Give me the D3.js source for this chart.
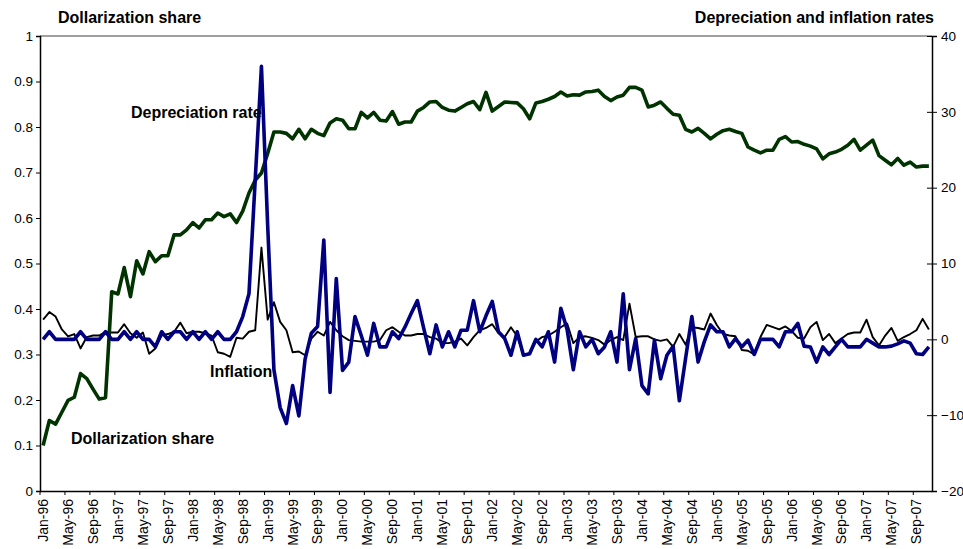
<!DOCTYPE html>
<html>
<head>
<meta charset="utf-8">
<script src="https://cdn.jsdelivr.net/npm/d3@7"></script>
<style>
  html, body { margin: 0; padding: 0; background: #fff; }
  svg { display: block; font-family: "Liberation Sans", Arial, sans-serif; }
  .axis text { font-size: 13.5px; fill: #000; }
  .axis.x text { font-size: 14px; }
  .label { font-size: 16px; font-weight: bold; fill: #000; }
</style>
</head>
<body>
<div id="chart"></div>
<script>
// Monthly categories Jan-96 .. Nov-07
const MONTHS = ["Jan","Feb","Mar","Apr","May","Jun","Jul","Aug","Sep","Oct","Nov","Dec"];
const YEARS = ["96","97","98","99","00","01","02","03","04","05","06","07"];
const categories = [];
YEARS.forEach(y => MONTHS.forEach(m => categories.push(`${m}-${y}`)));
categories.length = 143;

// Dollarization share (left axis)
const dollarization = [
  0.100,0.155,0.147,0.173,0.199,0.206,0.258,0.247,0.224,0.202,0.205,0.438,
  0.433,0.491,0.427,0.506,0.477,0.526,0.504,0.517,0.517,0.563,0.563,0.574,
  0.590,0.578,0.596,0.596,0.611,0.603,0.609,0.590,0.615,0.655,0.683,0.699,
  0.742,0.789,0.789,0.786,0.774,0.795,0.774,0.795,0.786,0.781,0.809,0.818,
  0.815,0.796,0.796,0.832,0.820,0.832,0.815,0.813,0.834,0.806,0.811,0.811,
  0.835,0.843,0.855,0.856,0.843,0.837,0.835,0.843,0.851,0.856,0.838,0.876,
  0.835,0.845,0.855,0.854,0.853,0.840,0.818,0.853,0.856,0.861,0.867,0.877,
  0.868,0.871,0.870,0.877,0.878,0.881,0.867,0.858,0.866,0.870,0.887,0.887,
  0.881,0.844,0.848,0.855,0.841,0.828,0.826,0.795,0.789,0.797,0.786,0.774,
  0.784,0.792,0.795,0.790,0.786,0.756,0.749,0.743,0.749,0.749,0.773,0.779,
  0.767,0.768,0.762,0.758,0.752,0.730,0.741,0.745,0.751,0.760,0.773,0.749,
  0.760,0.771,0.737,0.727,0.717,0.731,0.716,0.723,0.712,0.714,0.714
];

// Depreciation rate (right axis, %)
const depreciation = [
  0,1,0,0,0,0,1,0,0,0,1,0,
  0,1,0,1,0,0,-1,1,0,1,1,0,
  1,0,1,0,1,0,0,1,3,6,21,36,
  15,-4,-9,-11.1,-6.1,-10.1,-2.6,0.8,1.7,13.1,-7,8,
  -4.1,-3,3,0.5,-2.1,2.1,-1,-1,1,0.1,1.6,3.4,
  5.1,1.5,-1.9,1.9,-1,1,-1,1.2,1.2,5.1,1,3.1,
  5,1,0.1,-2.1,1,-2.1,-1.9,0,-1,1,-3,4.1,
  1.3,-4,1,-1,0,-1.9,-1,1,-3,6,-4,0.1,
  -6.1,-7.2,-0.1,-5.2,-2.1,-0.9,-8.1,-2.5,3,-3,-0.3,1.9,
  1,1,-1,0.1,-1,-0.1,-2,0,0,0,-1,1,
  1,2.1,-0.9,-1,-3,-1,-2,-1,0,-1,-1,-1,
  0,-0.5,-1,-1,-0.9,-0.6,-0.2,-0.5,-1.9,-2,-1
];

// Inflation (right axis, %)
const inflation = [
  2.6,3.6,3.0,1.3,0.4,0.7,-1.2,0.3,0.5,0.5,1.0,0.9,
  0.9,2.0,0.8,0.2,0.9,-1.9,-1.2,0.5,0.7,1.0,2.2,0.8,
  1.0,1.0,0.8,0.5,-1.7,-1.9,-2.3,0.2,0.1,1.0,1.2,12.1,
  2.6,4.9,2.3,1.2,-1.7,-1.6,-2.1,0.1,1.0,0.5,2.3,1.2,
  0.4,-0.1,-0.2,-0.3,-0.3,-0.3,-0.1,1.2,1.6,1.0,0.5,0.5,
  0.7,0.7,0.3,0.1,-0.5,-0.5,-0.3,0.1,-0.8,0.3,1.2,1.5,
  2.0,0.8,0.3,1.6,0.4,-2.1,-1.9,-0.3,0.3,0.5,1.0,1.6,
  2.1,-0.5,0.3,0.4,0.2,-0.1,-0.7,-0.1,0.3,-0.1,4.7,0.3,
  0.4,0.4,0.0,-0.2,0.0,-1.0,0.7,-0.7,1.6,1.5,1.3,3.4,
  1.9,0.7,0.5,0.4,-1.4,-1.5,-2.0,0.3,1.9,1.6,1.3,1.7,
  1.1,0.2,0.1,1.6,2.3,-0.1,0.7,-0.5,0.1,0.7,0.9,0.9,
  2.6,0.3,-0.8,0.5,1.5,-0.2,0.3,0.7,1.2,2.7,1.3
];

const leftTicks = [0, 0.1, 0.2, 0.3, 0.4, 0.5, 0.6, 0.7, 0.8, 0.9, 1];
const rightTicks = [-20, -10, 0, 10, 20, 30, 40];
const xTicks = categories.filter((d, i) => i % 4 === 0);

const W = 963, H = 549;
const m = { top: 36, right: 31, bottom: 58, left: 40 };
const iw = W - m.left - m.right;
const ih = H - m.top - m.bottom;

const svg = d3.select("#chart").append("svg")
  .attr("width", W).attr("height", H);

const g = svg.append("g").attr("transform", `translate(${m.left},${m.top})`);

const x = d3.scaleBand().domain(categories).range([0, iw]).padding(0);
const bw = x.bandwidth();
const cx = d => x(d) + bw / 2;
const yL = d3.scaleLinear().domain([0, 1]).range([ih, 0]);
const yR = d3.scaleLinear().domain([-20, 40]).range([ih, 0]);

// Top border
g.append("line")
  .attr("x1", 0).attr("x2", iw).attr("y1", 0).attr("y2", 0)
  .attr("stroke", "#808080").attr("stroke-width", 1.5);

// Left axis
const axL = g.append("g").attr("class", "axis")
  .call(d3.axisLeft(yL).tickValues(leftTicks).tickFormat(d => String(d)).tickSize(4).tickPadding(3));

// Right axis
const axR = g.append("g").attr("class", "axis")
  .attr("transform", `translate(${iw},0)`)
  .call(d3.axisRight(yR).tickValues(rightTicks).tickSize(5).tickPadding(4));
axR.selectAll(".tick line").attr("x1", -5);

// Bottom axis
const axB = g.append("g").attr("class", "axis x")
  .attr("transform", `translate(0,${ih})`)
  .call(d3.axisBottom(x).tickValues(xTicks).tickSize(4).tickSizeOuter(0));
axB.selectAll(".tick line").attr("x1", -bw / 2).attr("x2", -bw / 2);
axB.selectAll(".tick text")
  .attr("transform", "rotate(-90)")
  .attr("x", -8).attr("y", 0).attr("dy", "0.35em")
  .style("text-anchor", "end");

[axL, axR, axB].forEach(a => {
  a.select(".domain").attr("stroke", "#000").attr("stroke-width", 1.5);
  a.selectAll(".tick line").attr("stroke", "#000").attr("stroke-width", 1);
});

// Series
const lineL = d3.line().x((d, i) => cx(categories[i])).y(d => yL(d));
const lineR = d3.line().x((d, i) => cx(categories[i])).y(d => yR(d));

g.append("path").datum(inflation)
  .attr("fill", "none").attr("stroke", "#000").attr("stroke-width", 1.9)
  .attr("stroke-linejoin", "round").attr("d", lineR);

g.append("path").datum(dollarization)
  .attr("fill", "none").attr("stroke", "#003300").attr("stroke-width", 3.6)
  .attr("stroke-linejoin", "round").attr("d", lineL);

g.append("path").datum(depreciation)
  .attr("fill", "none").attr("stroke", "#000080").attr("stroke-width", 3.6)
  .attr("stroke-linejoin", "round").attr("d", lineR);

// Titles and annotations
svg.append("text").attr("class", "label").attr("x", 58).attr("y", 23).text("Dollarization share");
svg.append("text").attr("class", "label").attr("x", 934).attr("y", 23)
  .attr("text-anchor", "end").text("Depreciation and inflation rates");
svg.append("text").attr("class", "label").attr("x", 131).attr("y", 118).text("Depreciation rate");
svg.append("text").attr("class", "label").attr("x", 210).attr("y", 377).text("Inflation");
svg.append("text").attr("class", "label").attr("x", 71).attr("y", 444).text("Dollarization share");
</script>
</body>
</html>
